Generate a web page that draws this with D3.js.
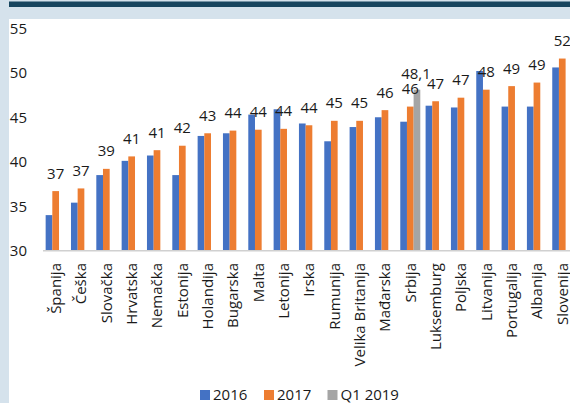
<!DOCTYPE html>
<html><head><meta charset="utf-8">
<script src="https://cdn.jsdelivr.net/npm/d3@7"></script>
<style>
html,body{margin:0;padding:0;background:#fff;}
svg{display:block;font-family:"Open Sans",sans-serif;}
</style></head>
<body>
<svg id="c" width="570" height="403"></svg>
<script>
const categories = ["Španija","Češka","Slovačka","Hrvatska","Nemačka","Estonija","Holandija","Bugarska","Malta","Letonija","Irska","Rumunija","Velika Britanija","Mađarska","Srbija","Luksemburg","Poljska","Litvanija","Portugalija","Albanija","Slovenija"];
const series2016 = [34.0,35.4,38.5,40.1,40.7,38.5,42.9,43.2,45.3,45.9,44.3,42.3,43.9,45.0,44.5,46.3,46.1,50.2,46.2,46.2,50.6];
const series2017 = [36.7,37.0,39.2,40.6,41.3,41.8,43.2,43.5,43.6,43.7,44.1,44.6,44.6,45.8,46.2,46.8,47.2,48.1,48.5,48.9,51.6];
const seriesQ12019 = [null,null,null,null,null,null,null,null,null,null,null,null,null,null,48.1,null,null,null,null,null,null];
const seriesNames = ["2016","2017","Q1 2019"];
const colors = ["#4472C4","#ED7D31","#A5A5A5"];
const yTicks = [30,35,40,45,50,55];

const svg = d3.select("#c");
// frame
svg.append("rect").attr("x",0).attr("y",0).attr("width",570).attr("height",403).attr("fill","#D5E2EC");
svg.append("rect").attr("x",9).attr("y",19).attr("width",561).attr("height",384).attr("fill","#fff");
svg.append("rect").attr("x",9).attr("y",1.5).attr("width",561).attr("height",5.5).attr("fill","#17455F");

const x0 = d3.scaleBand().domain(categories).range([43, 43 + 21*25.33]).paddingInner(0).paddingOuter(0);
const x1 = d3.scaleBand().domain(seriesNames).range([0, x0.bandwidth()]).paddingInner(0).paddingOuter(0.4);
const y = d3.scaleLinear().domain([30,55]).range([250.7, 28.3]);

// y tick labels
svg.append("g").selectAll("text").data(yTicks).join("text")
  .attr("x",27).attr("y",d=>y(d)).attr("dy","0.36em").attr("text-anchor","end")
  .attr("font-size",15).attr("fill","#1a1a1a").text(d=>d);

const allSeries = [series2016, series2017, seriesQ12019];
const bw = 6.7;
allSeries.forEach((vals,si)=>{
  svg.append("g").selectAll("rect").data(categories.map((c,i)=>({c,v:vals[i]})).filter(d=>d.v!=null)).join("rect")
    .attr("x",d=>x0(d.c)+x1(seriesNames[si]) + (x1.bandwidth()-bw)/2)
    .attr("width",bw)
    .attr("y",d=>y(d.v))
    .attr("height",d=>y(30)-y(d.v))
    .attr("fill",colors[si]);
});

// baseline
svg.append("line").attr("x1",43).attr("x2",570).attr("y1",y(30)).attr("y2",y(30))
  .attr("stroke","#D0D0D0").attr("stroke-width",1.6);

// data labels on 2017
const fmt0 = d3.format(".0f");
svg.append("g").selectAll("text").data(categories.map((c,i)=>({c,v:series2017[i]}))).join("text")
  .attr("x",d=>x0(d.c)+x1("2017")+x1.bandwidth()/2)
  .attr("y",d=>y(d.v)-12.5)
  .attr("text-anchor","middle").attr("font-size",15).attr("fill","#1a1a1a")
  .text(d=>fmt0(d.v));
// data label on Q1 2019
svg.append("g").selectAll("text").data(categories.map((c,i)=>({c,v:seriesQ12019[i]})).filter(d=>d.v!=null)).join("text")
  .attr("x",d=>x0(d.c)+x1("Q1 2019")+x1.bandwidth()/2 - 1)
  .attr("y",d=>y(d.v)-11)
  .attr("text-anchor","middle").attr("font-size",15).attr("fill","#1a1a1a")
  .text(d=>d3.format(".1f")(d.v).replace(".",","));

// category labels
svg.append("g").selectAll("text").data(categories).join("text")
  .attr("transform",d=>`translate(${x0(d)+x0.bandwidth()/2},263) rotate(-90)`)
  .attr("dy","0.35em").attr("text-anchor","end").attr("font-size",15).attr("fill","#1a1a1a")
  .text(d=>d);

// legend
const legX = [200, 264, 327.5];
const lg = svg.append("g");
seriesNames.forEach((n,i)=>{
  lg.append("rect").attr("x",legX[i]).attr("y",390).attr("width",10).attr("height",10).attr("fill",colors[i]);
  lg.append("text").attr("x",legX[i]+13).attr("y",400).attr("font-size",15).attr("fill","#1a1a1a").text(n);
});
</script>
</body></html>
